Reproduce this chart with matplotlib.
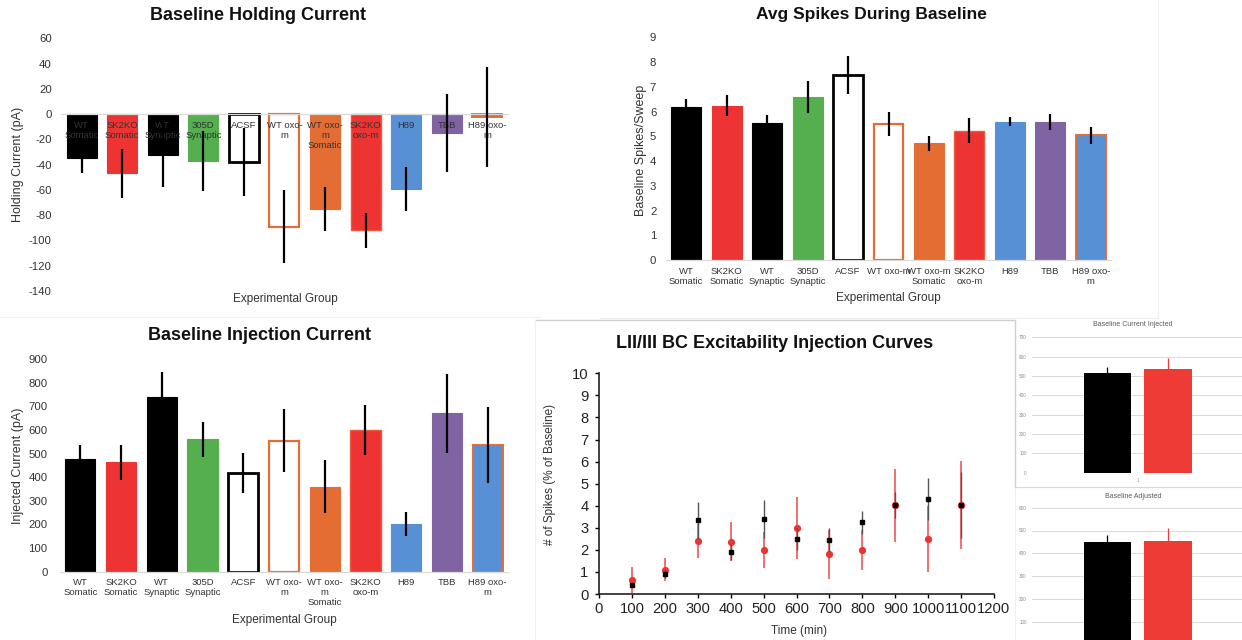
import numpy as np
import matplotlib
matplotlib.use("Agg")
import matplotlib.pyplot as plt
from matplotlib.lines import Line2D

plt.rcParams['font.family'] = ['Liberation Sans', 'DejaVu Sans']
plt.rcParams['axes.unicode_minus'] = False

W, H = 1242, 640

# Group names, wrapped the way each panel shows them
groups_wrap = ["WT\nSomatic", "SK2KO\nSomatic", "WT\nSynaptic", "305D\nSynaptic", "ACSF",
               "WT oxo-\nm", "WT oxo-\nm\nSomatic", "SK2KO\noxo-m", "H89", "TBB", "H89 oxo-\nm"]
groups_short = ["WT\nSomatic", "SK2KO\nSomatic", "WT\nSynaptic", "305D\nSynaptic", "ACSF",
                "WT oxo-m", "WT oxo-m\nSomatic", "SK2KO\noxo-m", "H89", "TBB", "H89 oxo-\nm"]

# Bar styles per group
fills = ["#000000", "#EE3433", "#000000", "#55AF4F", "#FFFFFF", "#FFFFFF",
         "#E46D34", "#EE3433", "#5890D6", "#8063A2", "#5890D6"]
edges = ["#000000", "#EE3433", "#000000", "#55AF4F", "#000000", "#E46D34",
         "#E46D34", "#EC5A3A", "#5890D6", "#8063A2", "#E46D34"]
edge_w = [0.8, 0.8, 0.8, 0.8, 2.0, 1.6, 0.8, 1.0, 0.8, 0.8, 1.4]

# Baseline holding current (pA)
hold_mean = [-35, -47, -32, -37, -38, -89, -75, -92, -59, -15, -2]
hold_err = [12, 19.5, 26, 24, 27, 29, 17.5, 14, 17.5, 31, 39.5]

# Average spikes per sweep during baseline
spikes_mean = [6.2, 6.24, 5.53, 6.58, 7.48, 5.5, 4.72, 5.22, 5.59, 5.57, 5.04]
spikes_err = [0.3, 0.43, 0.33, 0.64, 0.77, 0.47, 0.3, 0.51, 0.18, 0.32, 0.34]

# Baseline injected current (pA)
inj_mean = [475, 463, 740, 560, 416, 554, 360, 599, 202, 670, 536]
inj_err = [60, 73, 106, 74, 85, 134, 112, 105, 51, 166, 162]

# Injection curves over time
time_min = [100, 200, 300, 400, 500, 600, 700, 800, 900, 1000, 1100]
wt_spikes = [0.41, 0.92, 3.34, 1.89, 3.40, 2.49, 2.46, 3.25, 4.02, 4.30, 4.02]
wt_spikes_err = [0.1, 0.2, 0.85, 0.35, 0.86, 0.5, 0.54, 0.53, 0.58, 0.94, 1.5]
ko_spikes = [0.63, 1.09, 2.42, 2.37, 1.99, 3.0, 1.8, 1.99, 4.02, 2.49, 4.02]
ko_spikes_err = [0.6, 0.52, 0.77, 0.87, 0.8, 1.4, 1.1, 0.9, 1.65, 1.48, 2.0]

# Small summary charts (black = WT, red = KO)
pair_colors = ["#000000", "#EE3B36"]
cur_injected = [517, 536]
cur_injected_err = [28, 55]
adjusted = [451, 455]
adjusted_err = [31, 57]

fig = plt.figure(figsize=(W / 100, H / 100), dpi=100)


def px_axes(x0, y0, x1, y1):
    return fig.add_axes([x0 / W, 1 - y1 / H, (x1 - x0) / W, (y1 - y0) / H])


def px_text(x, y, s, **kw):
    kw.setdefault("ha", "center")
    kw.setdefault("va", "center")
    fig.text(x / W, 1 - y / H, s, **kw)


def px_line(x0, y0, x1, y1, color="#e6e6e6", lw=0.8):
    fig.add_artist(Line2D([x0 / W, x1 / W], [1 - y0 / H, 1 - y1 / H],
                          transform=fig.transFigure, color=color, lw=lw))


def group_bars(ax, means, errs, labels, ypad, xpad, at_zero=False):
    if at_zero:
        # category labels sit on the zero line
        ax.spines["bottom"].set_position(("data", 0))
    x = np.arange(len(means))
    ax.bar(x, means, width=0.74, color=fills, edgecolor=edges, linewidth=edge_w, zorder=1)
    ax.errorbar(x, means, yerr=errs, fmt="none", ecolor="#000000", elinewidth=1.6,
                capsize=0, zorder=3)
    ax.set_xlim(-0.5, len(means) - 0.5)
    ax.set_xticks(x)
    ax.set_xticklabels(labels, linespacing=1.15)
    for s in ["top", "right", "left"]:
        ax.spines[s].set_visible(False)
    ax.spines["bottom"].set_color("#d9d9d9")
    ax.spines["bottom"].set_linewidth(0.9)
    ax.tick_params(axis="x", length=0, pad=xpad, labelsize=6.8, labelcolor="#333333")
    ax.tick_params(axis="y", length=0, pad=ypad, labelsize=8.2, labelcolor="#333333")
    ax.set_facecolor("none")


# Baseline holding current
ax1 = px_axes(61.4, 38.3, 507.5, 291)
group_bars(ax1, hold_mean, hold_err, groups_wrap, ypad=7, xpad=5, at_zero=True)
ax1.set_ylim(-140, 60)
ax1.set_yticks(range(-140, 61, 20))
px_text(258, 16, "Baseline Holding Current", fontsize=13, fontweight="bold", color="#111111")
px_text(18, 164, "Holding Current (pA)", fontsize=9, rotation=90, color="#333333")
px_text(285, 299, "Experimental Group", fontsize=8.5, color="#333333")

# Avg spikes during baseline
ax2 = px_axes(666, 37.3, 1111, 260)
group_bars(ax2, spikes_mean, spikes_err, groups_short, ypad=7, xpad=5)
ax2.set_ylim(0, 9)
ax2.set_yticks(range(0, 10))
px_text(871, 14, "Avg Spikes During Baseline", fontsize=12.5, fontweight="bold", color="#111111")
px_text(641, 150, "Baseline Spikes/Sweep", fontsize=9, rotation=90, color="#333333")
px_text(888, 298, "Experimental Group", fontsize=8.5, color="#333333")

# Baseline injection current
ax3 = px_axes(60, 359, 508, 571.7)
group_bars(ax3, inj_mean, inj_err, groups_wrap, ypad=9, xpad=4.5)
ax3.set_ylim(0, 900)
ax3.set_yticks(range(0, 901, 100))
px_text(259, 336, "Baseline Injection Current", fontsize=13, fontweight="bold", color="#111111")
px_text(18, 466, "Injected Current (pA)", fontsize=9, rotation=90, color="#333333")
px_text(284, 620, "Experimental Group", fontsize=8.5, color="#333333")

# Excitability injection curves
ax4 = px_axes(599, 373.3, 994, 594)
ax4.errorbar(time_min, ko_spikes, yerr=ko_spikes_err, fmt="o", color="#EE3433",
             markersize=4.2, ecolor="#F05555", elinewidth=1.2, capsize=0, zorder=2)
ax4.errorbar(time_min, wt_spikes, yerr=wt_spikes_err, fmt="s", color="#000000",
             markersize=3.4, ecolor="#555555", elinewidth=1.0, capsize=0, zorder=3)
ax4.set_xlim(0, 1200)
ax4.set_ylim(0, 10)
ax4.set_xticks(range(0, 1201, 100))
ax4.set_yticks(range(0, 11))
for s in ["top", "right"]:
    ax4.spines[s].set_visible(False)
for s in ["left", "bottom"]:
    ax4.spines[s].set_linewidth(1.2)
    ax4.spines[s].set_color("#222222")
ax4.tick_params(direction="out", length=3, width=1.0, labelsize=10.6, labelcolor="#222222")
ax4.tick_params(axis="x", pad=3)
ax4.tick_params(axis="y", pad=4.5)
px_text(775, 343, "LII/III BC Excitability Injection Curves", fontsize=13, fontweight="bold",
        color="#111111")
px_text(550, 474, "# of Spikes (% of Baseline)", fontsize=8.5, rotation=90, color="#333333")
px_text(799, 631, "Time (min)", fontsize=8.5, color="#333333")


def pair_chart(ax, vals, errs, top, bottom_tick=0):
    offs = [-0.143, 0.143]
    for off, v, e, c in zip(offs, vals, errs, pair_colors):
        ax.bar(off, v, width=0.222, color=c, zorder=2)
        ax.errorbar(off, v, yerr=e, fmt="none", ecolor=c, elinewidth=0.9, capsize=0, zorder=3)
    ax.set_xlim(-0.5, 0.5)
    ax.set_ylim(0, top)
    ax.set_yticks(range(bottom_tick, top + 1, 100))
    ax.grid(axis="y", color="#d9d9d9", lw=0.7)
    ax.set_axisbelow(True)
    for s in ax.spines.values():
        s.set_visible(False)
    ax.tick_params(length=0, labelsize=3.3, labelcolor="#8c8c8c", pad=3.5)


ax5 = px_axes(1031.7, 337.3, 1243.7, 472.7)
pair_chart(ax5, cur_injected, cur_injected_err, 700)
ax5.set_xticks([0])
ax5.set_xticklabels(["1"])
px_text(1133, 325, "Baseline Current Injected", fontsize=5, color="#595959")

# lower chart runs past the bottom edge, so its zero row is not shown
ax6 = px_axes(1031.7, 507.7, 1243.7, 644.5)
pair_chart(ax6, adjusted, adjusted_err, 600, bottom_tick=100)
ax6.set_xticks([])
px_text(1133, 497, "Baseline Adjusted", fontsize=5, color="#595959")

# panel frames
px_line(0, 317, 540, 317, color="#f0f0f0")
px_line(600, 318, 1158, 318, color="#eeeeee")
px_line(1158, 0, 1158, 318, color="#f2f2f2")
px_line(535, 319.5, 1015, 319.5, color="#cfcfcf", lw=1.0)
px_line(535, 319.5, 535, 640, color="#eeeeee")
px_line(1015, 319.5, 1015, 487, color="#cfcfcf", lw=1.0)
px_line(1015, 487, 1015, 640, color="#eeeeee")
px_line(1015, 487, 1242, 487, color="#d9d9d9")

fig.savefig("out.png", dpi=100)
